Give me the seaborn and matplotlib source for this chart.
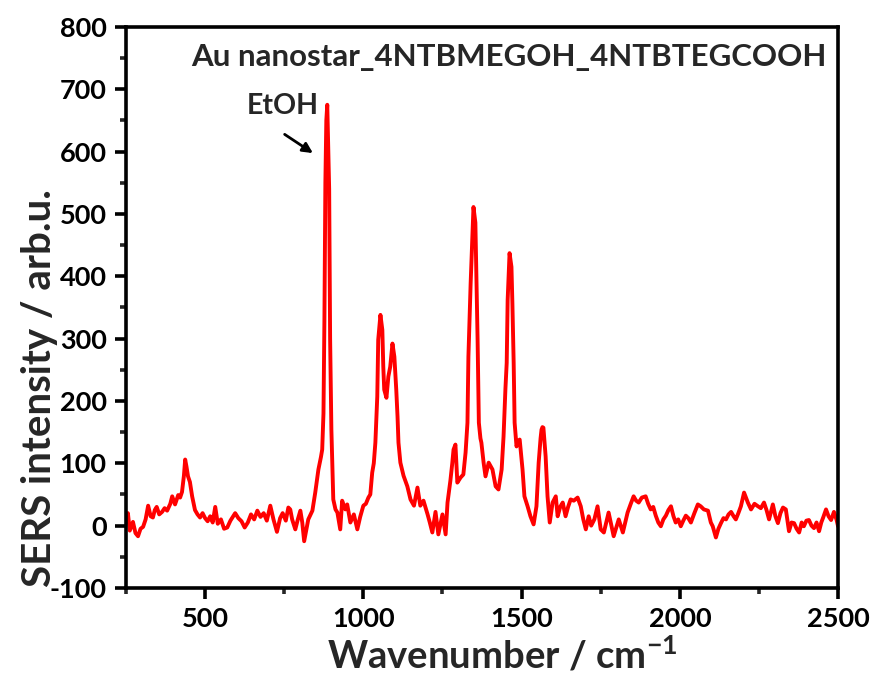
import matplotlib
matplotlib.use("Agg")
import matplotlib.pyplot as plt
import seaborn as sns
import pandas as pd
from matplotlib.ticker import MultipleLocator

# ---- data (wavenumber cm-1, SERS intensity arb.u.) ----
wavenumber = [
    250, 256, 262, 272, 280, 288, 296, 304, 312, 320, 328, 335, 341, 347, 355, 364, 372, 380,
    390, 396, 405, 415, 421, 427, 433, 437, 441, 446, 452, 459, 468, 476, 484, 492, 500, 508,
    516, 524, 532, 540, 550, 560, 570, 580, 595, 605, 615, 625, 635, 645, 655, 665, 675, 685,
    695, 706, 716, 727, 737, 745, 755, 763, 769, 775, 785, 793, 801, 807, 813, 826, 839, 848,
    858, 866, 870, 874, 877, 880, 883, 886, 889, 892, 895, 899, 902, 905, 912, 918, 927, 933,
    943, 949, 959, 970, 981, 990, 1000, 1008, 1016, 1022, 1028, 1033, 1038, 1044, 1047, 1054,
    1060, 1063, 1066, 1073, 1079, 1085, 1092, 1098, 1104, 1108, 1111, 1117, 1127, 1139, 1149,
    1160, 1171, 1180, 1190, 1203, 1210, 1218, 1228, 1237, 1250, 1260, 1266, 1275, 1281, 1285,
    1291, 1297, 1307, 1316, 1323, 1329, 1332, 1339, 1345, 1348, 1354, 1357, 1361, 1365, 1370,
    1373, 1380, 1386, 1396, 1408, 1418, 1427, 1437, 1443, 1449, 1453, 1456, 1462, 1468, 1471,
    1475, 1478, 1484, 1490, 1494, 1503, 1509, 1519, 1528, 1538, 1547, 1554, 1560, 1563, 1566,
    1569, 1576, 1582, 1589, 1598, 1608, 1614, 1622, 1630, 1639, 1647, 1655, 1665, 1677, 1687,
    1695, 1703, 1712, 1720, 1730, 1740, 1750, 1760, 1775, 1791, 1807, 1820, 1835, 1845, 1854,
    1862, 1870, 1880, 1892, 1900, 1908, 1916, 1924, 1932, 1940, 1948, 1956, 1964, 1972, 1980,
    1987, 1995, 2003, 2011, 2019, 2027, 2035, 2046, 2057, 2066, 2076, 2089, 2098, 2104, 2114,
    2122, 2130, 2138, 2146, 2154, 2162, 2170, 2177, 2185, 2193, 2203, 2209, 2215, 2225, 2236,
    2247, 2256, 2266, 2274, 2282, 2294, 2302, 2310, 2318, 2326, 2335, 2345, 2353, 2361, 2369,
    2377, 2385, 2392, 2400, 2408, 2416, 2424, 2432, 2440, 2447, 2453, 2462, 2470, 2478, 2487,
    2495, 2500,
]
intensity = [
    5, 20, -8, 6, -12, -17, -5, -2, 10, 32, 15, 13, 25, 30, 18, 22, 28, 24,
    35, 47, 34, 49, 45, 54, 80, 106, 95, 79, 70, 47, 25, 18, 13, 20, 12, 7,
    15, 5, 30, 3, 10, -5, -3, 8, 20, 12, 7, -3, 5, 18, 10, 24, 14, 20,
    8, 32, 10, -10, 12, 20, 8, 29, 26, 10, -6, 10, 24, 5, -25, 10, 24, 53,
    90, 110, 122, 180, 330, 550, 650, 675, 610, 540, 300, 154, 101, 42, 26, 21, -6, 40,
    26, 34, 5, 18, -6, 14, 32, 35, 45, 50, 85, 100, 133, 207, 298, 338,
    314, 255, 218, 205, 239, 255, 292, 271, 218, 175, 133, 101, 80, 63, 42,
    32, 61, 32, 40, 18, 5, -11, 22, -14, 18, -14, 37, 72, 100, 122,
    130, 69, 77, 82, 117, 165, 271, 388, 469, 511, 486, 402, 298, 165, 140,
    133, 101, 79, 101, 90, 63, 58, 90, 143, 220, 261, 362, 437, 415, 356,
    261, 165, 127, 136, 138, 90, 47, 31, 15, 2, 31, 101, 140, 154, 158,
    157, 111, 47, 5, 37, 47, 15, 30, 37, 15, 30, 42, 40, 45, 31,
    10, -6, 15, 0, 10, 31, -6, -11, 21, -17, 10, -11, 21, 35, 47,
    40, 37, 45, 47, 35, 26, 30, 16, 5, -1, 10, 16, 25, 31, 15,
    5, 10, -1, 8, 16, 12, 5, 20, 34, 31, 26, 24, 5, -1, -19,
    -5, 4, 12, 10, 18, 22, 15, 10, 20, 31, 53, 45, 37, 26, 35,
    31, 28, 37, 25, 10, 34, 15, 4, 20, 29, 26, -9, 5, 4, -5,
    -11, 5, -1, 8, 9, 0, -4, 5, -9, 5, 13, 26, 15, 9, 22,
    10, -1,
]
x_ticks = [500, 1000, 1500, 2000, 2500]
y_ticks = [-100, 0, 100, 200, 300, 400, 500, 600, 700, 800]
title_text = "Au nanostar_4NTBMEGOH_4NTBTEGCOOH"
annot_text = "EtOH"

df = pd.DataFrame({"Wavenumber": wavenumber, "Intensity": intensity})

sns.set_style("ticks")
plt.rcParams["font.family"] = ["Lato", "DejaVu Sans"]
plt.rcParams["font.weight"] = "bold"
plt.rcParams["axes.unicode_minus"] = False
plt.rcParams["mathtext.fontset"] = "custom"
plt.rcParams["mathtext.rm"] = "Lato:bold"
plt.rcParams["mathtext.bf"] = "Lato:bold"
plt.rcParams["mathtext.default"] = "regular"

fig = plt.figure(figsize=(8.78, 6.81), dpi=100)
ax = fig.add_axes([0.1435, 0.1366, 0.811, 0.824])

sns.lineplot(data=df, x="Wavenumber", y="Intensity", ax=ax, color="#ff0000",
             linewidth=2.8, estimator=None, sort=False)

ax.set_xlim(250, 2500)
ax.set_ylim(-100, 800)
ax.set_xticks(x_ticks)
ax.set_yticks(y_ticks)
ax.xaxis.set_minor_locator(MultipleLocator(250))
ax.yaxis.set_minor_locator(MultipleLocator(50))

for s in ax.spines.values():
    s.set_visible(True)
    s.set_linewidth(2.6)
    s.set_color("black")

ax.tick_params(axis="both", which="major", direction="out", length=8, width=2.6,
               labelsize=19.5, colors="black", pad=6)
ax.tick_params(axis="both", which="minor", direction="out", length=4.5, width=2.6)
ax.tick_params(top=False, right=False, which="both")
for lab in ax.get_xticklabels() + ax.get_yticklabels():
    lab.set_fontweight("bold")

ax.set_xlabel("Wavenumber / cm$^{-1}$", fontsize=27.5, fontweight="bold")
ax.set_ylabel("SERS intensity / arb.u.", fontsize=29, fontweight="bold")
ax.xaxis.set_label_coords(0.528, -0.083)
ax.yaxis.set_label_coords(-0.095, 0.356)

ax.text(0.538, 0.947, title_text, transform=ax.transAxes, ha="center", va="center",
        fontsize=22.5, fontweight="bold")
ax.annotate("", xy=(848, 595), xytext=(744, 630),
            arrowprops=dict(arrowstyle="-|>", color="black", lw=2.0, mutation_scale=15))
ax.text(745, 673, annot_text, ha="center", va="center", fontsize=20.5, fontweight="bold")

fig.savefig("out.png", dpi=100)
